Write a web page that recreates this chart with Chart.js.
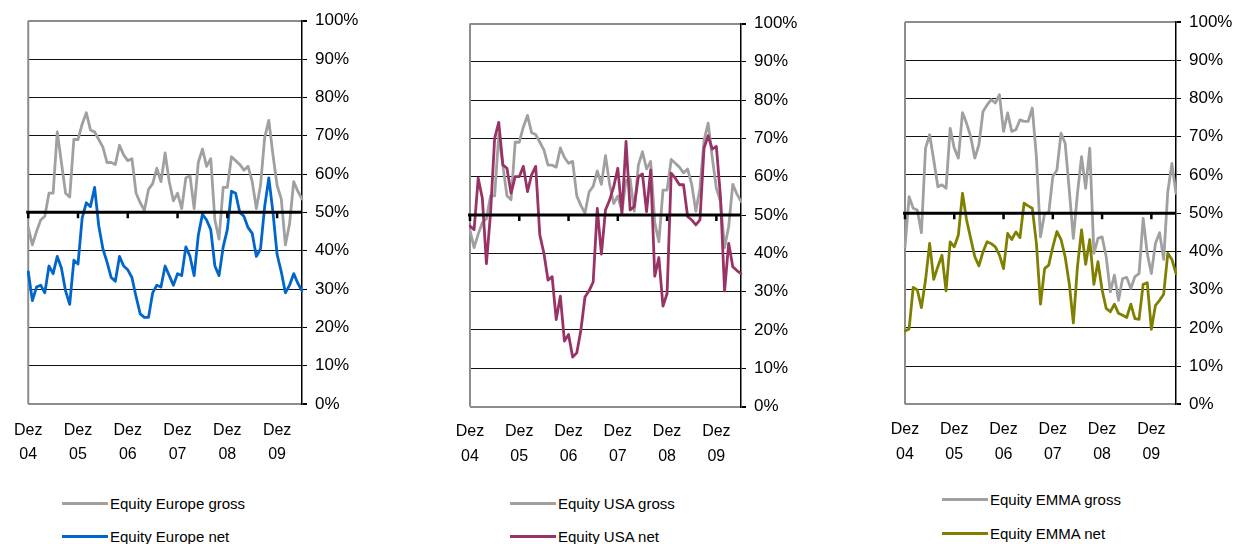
<!DOCTYPE html>
<html lang="de">
<head>
<meta charset="UTF-8">
<title>Equity gross / net</title>
<script src="https://cdn.jsdelivr.net/npm/chart.js@4.4.1/dist/chart.umd.min.js"></script>
<style>
  body { margin: 0; background: #fff; font-family: Arial, 'Liberation Sans', sans-serif; }
  canvas { position: absolute; top: 0; }
  .leg { position: absolute; display: flex; align-items: center; height: 20px; font-size: 15px; color: #000; white-space: nowrap; }
  .leg i { display: inline-block; width: 46px; height: 3px; margin-right: 2px; }
</style>
</head>
<body>
<canvas id="c1" width="362" height="480" style="left:0px"></canvas>
<canvas id="c2" width="361" height="480" style="left:440px"></canvas>
<canvas id="c3" width="366" height="480" style="left:870px"></canvas>

<div class="leg" style="left:62px;top:493px"><i style="background:#a0a0a0"></i>Equity Europe gross</div>
<div class="leg" style="left:62px;top:526px"><i style="background:#0066cc"></i>Equity Europe net</div>
<div class="leg" style="left:510px;top:493px"><i style="background:#a0a0a0"></i>Equity USA gross</div>
<div class="leg" style="left:510px;top:526px"><i style="background:#993366"></i>Equity USA net</div>
<div class="leg" style="left:942px;top:489px"><i style="background:#a0a0a0"></i>Equity EMMA gross</div>
<div class="leg" style="left:942px;top:523px"><i style="background:#808000"></i>Equity EMMA net</div>

<script>
// monatliche Werte in %, Dez 04 bis Jun 10
const tickLabels = [['Dez', '04'], ['Dez', '05'], ['Dez', '06'], ['Dez', '07'], ['Dez', '08'], ['Dez', '09']];

const europeGross = [46, 41.5, 45, 48, 49, 55, 55, 71, 63, 55, 54, 69, 69, 73, 76, 71.5, 71, 69, 67, 63,
  63, 62.5, 67.5, 65, 63.5, 64, 55, 52.5, 50.5, 56, 57.5, 61.5, 58, 65.5, 58, 53, 55, 51, 59, 59.5,
  51, 63, 66.5, 62, 64, 48, 43, 56.5, 56.5, 64.5, 63.5, 62.5, 61, 62, 58, 51, 57, 69.5, 74, 65,
  57, 53.5, 41.5, 47, 58, 55.5, 53.5];
const europeNet = [34.5, 27, 30.5, 31, 29, 36, 34, 38.5, 35.5, 29.5, 26, 37.5, 36.5, 48.5, 52.5, 51.5, 56.5, 46.5, 40.5, 37,
  33, 32, 38.5, 36, 35, 33, 28, 23.5, 22.6, 22.6, 29, 31, 30.5, 36, 33.5, 31, 34, 33.5, 41, 38.5,
  33.5, 44, 49.5, 48, 45.5, 36, 33.5, 41, 45.5, 55.5, 55, 50, 49, 46, 44.5, 38.5, 40.5, 51.5, 59, 50,
  39, 34.5, 29, 31, 34, 31.5, 29.5];

const usaGross = [46, 41.5, 45, 48, 49, 55, 55, 71, 63, 55, 54, 69, 69, 73, 76, 71.5, 71, 69, 67, 63,
  63, 62.5, 67.5, 65, 63.5, 64, 55, 52.5, 50.5, 56, 57.5, 61.5, 58, 65.5, 58, 53, 55, 51, 59, 59.5,
  51, 63, 66.5, 62, 64, 48, 43, 56.5, 56.5, 64.5, 63.5, 62.5, 61, 62, 58, 51, 57, 69.5, 74, 65,
  57, 53.5, 41.5, 47, 58, 55.5, 53.5];
const usaNet = [47.1, 46.2, 59.6, 54.4, 37.3, 50.4, 70, 74.2, 63.1, 62.2, 55.7, 60, 60, 62.7, 56.1, 60.5, 62.7, 44.8, 40, 33,
  33.9, 22.7, 28.8, 17.1, 18.8, 12.9, 14, 19.9, 28.6, 30.2, 32.5, 51.7, 39.8, 51.3, 53.9, 57.4, 62.2, 50.4, 69.2, 51.3,
  52.2, 60, 60.7, 50.9, 61.8, 34, 38.9, 26.2, 29.5, 60.9, 59.6, 57.9, 57.9, 49.6, 48.7, 47.4, 48.7, 67.5, 70.7, 67.2,
  67.9, 54.8, 30.2, 42.6, 36.5, 35.5, 34.7];

const emmaGross = [41.2, 54.3, 51.3, 50.8, 44.9, 67, 70.5, 63.9, 56.9, 57.4, 56.5, 72.2, 67, 64.4, 76.3, 73.5, 70, 64.4, 67.9, 76.6,
  78.3, 79.7, 78.8, 81, 71.4, 76.2, 71.4, 71.8, 74.4, 74, 74, 77.5, 64.8, 43.8, 50, 50, 59.6, 61.3, 70.9, 68.3,
  56.1, 43.4, 55.2, 64.8, 56.5, 67, 39.5, 43.4, 43.8, 38.6, 29.4, 33.8, 27.2, 32.9, 33.2, 30.3, 33.4, 34.2, 48.6, 39.5,
  34.2, 42.1, 44.9, 37.9, 55.6, 63, 55.2];
const emmaNet = [19.2, 19.7, 30.6, 29.9, 25.3, 32.5, 42.1, 32.7, 36, 39, 29.7, 42.5, 41.2, 44.3, 55.2, 48.2, 43.4, 38.6, 36.2, 39.9,
  42.5, 42, 41.2, 39, 35.5, 44.7, 43.1, 45.1, 43.6, 52.6, 51.9, 51.3, 42.1, 26.2, 35.5, 36.4, 41.2, 45.2, 43.1, 38.6,
  31.6, 21.3, 36, 45.6, 36.6, 43.1, 31.4, 37.3, 29.9, 25.1, 24.2, 26.2, 23.8, 23.3, 22.7, 26.2, 22.4, 22.2, 31.4, 31.8,
  19.6, 25.9, 27.2, 28.8, 39.5, 37.9, 34.2];

// Kategorien: nur jeder Dezember bekommt eine Beschriftung
const labels = europeGross.map((v, i) => (i % 12 === 0 ? tickLabels[i / 12] : ''));

Chart.defaults.font.family = "Arial, 'Liberation Sans', sans-serif";
Chart.defaults.color = '#000';

// linker Rahmen + dicke 50%-Achse mit Teilstrichen (liegt über den Linien)
const frame = {
  id: 'frame',
  beforeDatasetsDraw(chart) {
    const { ctx, chartArea: a } = chart;
    ctx.save();
    ctx.strokeStyle = '#8c8c8c';
    ctx.lineWidth = 2;
    ctx.beginPath();
    ctx.moveTo(a.left, a.top);
    ctx.lineTo(a.left, a.bottom);
    ctx.stroke();
    ctx.restore();
  },
  afterDatasetsDraw(chart) {
    const { ctx, chartArea: a, scales: { x, y } } = chart;
    const y50 = y.getPixelForValue(50);
    ctx.save();
    ctx.strokeStyle = '#000';
    ctx.lineWidth = 3;
    ctx.beginPath();
    ctx.moveTo(a.left - 2, y50);
    ctx.lineTo(a.right, y50);
    ctx.stroke();
    ctx.lineWidth = 2.5;
    ctx.beginPath();
    labels.forEach((l, i) => {
      if (!l) return;
      const px = x.getPixelForValue(i);
      ctx.moveTo(px, y50);
      ctx.lineTo(px, y50 + 6);
    });
    ctx.stroke();
    ctx.restore();
  }
};

function makeChart(id, gross, net, netColor, box) {
  return new Chart(document.getElementById(id), {
    type: 'line',
    data: {
      labels: labels,
      datasets: [
        { label: 'gross', data: gross, borderColor: '#a0a0a0', order: 2 },
        { label: 'net', data: net, borderColor: netColor, order: 1 }
      ]
    },
    options: {
      responsive: false,
      animation: false,
      layout: { padding: { left: box.left, top: box.top, right: 0, bottom: 0 } },
      elements: {
        point: { radius: 0 },
        line: { borderWidth: 2.8, tension: 0, borderJoinStyle: 'round', borderCapStyle: 'round' }
      },
      plugins: { legend: { display: false }, tooltip: { enabled: false } },
      scales: {
        x: {
          offset: false,
          grid: { display: false, drawTicks: false },
          border: { display: false },
          ticks: { autoSkip: false, maxRotation: 0, padding: box.pad, font: { size: 16, lineHeight: '24.5px' } },
          afterFit: s => { s.height = box.xh; }
        },
        y: {
          position: 'right',
          min: 0,
          max: 100,
          ticks: { stepSize: 10, padding: 8, font: { size: 17 }, callback: v => v + '%' },
          grid: {
            color: c => (c.tick.value === 0 || c.tick.value === 100) ? '#8c8c8c' : '#111',
            lineWidth: c => (c.tick.value === 0 || c.tick.value === 100) ? 2 : 1,
            tickColor: '#000',
            tickLength: 5
          },
          border: { color: '#000', width: 1.5 },
          afterFit: s => { s.width = 60; }
        }
      }
    },
    plugins: [frame]
  });
}

makeChart('c1', europeGross, europeNet, '#0066cc', { left: 24, top: 20.7, xh: 76, pad: 14 });
makeChart('c2', usaGross, usaNet, '#993366', { left: 30, top: 23.5, xh: 73.5, pad: 13 });
makeChart('c3', emmaGross, emmaNet, '#808000', { left: 35, top: 22, xh: 75.7, pad: 13.5 });
</script>
</body>
</html>
